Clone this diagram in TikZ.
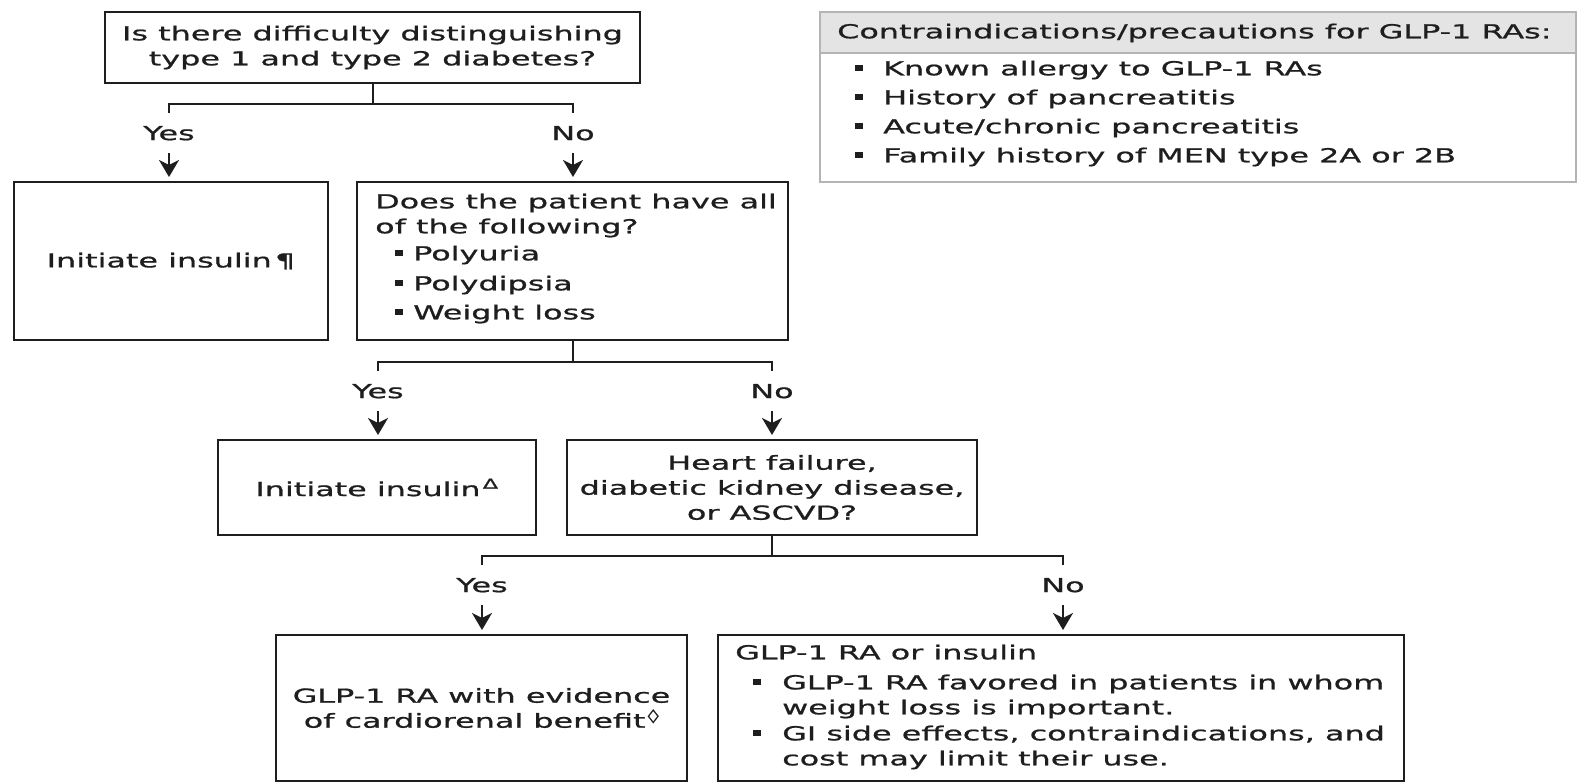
\documentclass[tikz,border=0pt]{standalone}
\usepackage{fontspec}
\setmainfont{DejaVu Sans}[FakeStretch=1.65,FakeBold=0.9]
\usetikzlibrary{arrows.meta}
\definecolor{ink}{HTML}{1E1E1E}
\definecolor{hdrgray}{HTML}{E4E4E4}
\definecolor{framegray}{HTML}{B4B4B4}
\newcommand\bul{\rule[4pt]{8pt}{6.5pt}}
\newcommand\bitem[3]{\hspace*{#1}\makebox[#2][l]{\bul}#3}
\begin{document}
\begin{tikzpicture}[x=1pt,y=-1pt,
  font=\fontsize{19.3pt}{25pt}\selectfont, text=ink,
  box/.style={draw=ink, line width=2pt, inner sep=0pt, align=center},
  lbl/.style={anchor=north, inner xsep=0pt, inner ysep=13pt, text height=13.9pt, text depth=0pt},
  ln/.style={draw=ink, line width=2pt},
  arr/.style={ln, -{Stealth[length=17pt,width=20pt,inset=5pt]}, shorten >=4pt},
]
\useasboundingbox (0,0) rectangle (1579,784);
\fill[white] (0,0) rectangle (1579,784);

% top question
\node[box, minimum width=535pt, minimum height=71pt] (q1) at (372.5,47.5) {Is there difficulty distinguishing\\type 1 and type 2 diabetes?};
\node[lbl] (yes1) at (169,113) {Yes};
\node[lbl] (no1) at (573,113) {No};
\draw[ln] (q1.south) -- ++(0,20) coordinate (b1);
\draw[ln] (yes1.north) |- (b1) -| (no1.north);

% row 1
\node[box, minimum width=314pt, minimum height=158pt] (l1) at (171,261) {Initiate insulin\,¶};
\node[box, minimum width=431pt, minimum height=158pt] (r1) at (572.5,261) {};
\node[anchor=west, align=left, inner sep=0pt] (r1t) at (375,258.5) {Does the patient have all\\of the following?\\[2pt]\bitem{20pt}{18pt}{Polyuria}\\[5pt]\bitem{20pt}{18pt}{Polydipsia}\\[4pt]\bitem{20pt}{18pt}{Weight loss}};
\draw[arr] (yes1.south) -- (yes1.south |- l1.north);
\draw[arr] (no1.south) -- (no1.south |- r1.north);

% row 2
\draw[ln] (r1.south) -- ++(0,21) coordinate (b2);
\node[lbl] (yes2) at (378,371) {Yes};
\node[lbl] (no2) at (772,371) {No};
\draw[ln] (yes2.north) |- (b2) -| (no2.north);
\node[box, minimum width=318pt, minimum height=95pt] (l2) at (377,487.5) {Initiate insulin\textsuperscript{\,Δ}};
\node[box, minimum width=410pt, minimum height=95pt] (h2) at (772,487.5) {Heart failure,\\diabetic kidney disease,\\or ASCVD?};
\draw[arr] (yes2.south) -- (yes2.south |- l2.north);
\draw[arr] (no2.south) -- (no2.south |- h2.north);

% row 3
\draw[ln] (h2.south) -- ++(0,20) coordinate (b3);
\node[lbl] (yes3) at (482,565) {Yes};
\node[lbl] (no3) at (1063,565) {No};
\draw[ln] (yes3.north) |- (b3) -| (no3.north);
\node[box, minimum width=411pt, minimum height=146pt] (bl) at (481.5,708) {GLP-1 RA with evidence\\of cardiorenal benefit\textsuperscript{\,◊}};
\node[box, minimum width=686pt, minimum height=146pt] (br) at (1061,708) {};
\node[anchor=west, align=left, inner sep=0pt] (brt) at (735,707) {GLP-1 RA or insulin\\[5pt]\bitem{18pt}{29pt}{GLP-1 RA favored in patients in whom}\\\hspace*{47pt}weight loss is important.\\[1pt]\bitem{18pt}{29pt}{GI side effects, contraindications, and}\\\hspace*{47pt}cost may limit their use.};
\draw[arr] (yes3.south) -- (yes3.south |- bl.north);
\draw[arr] (no3.south) -- (no3.south |- br.north);

% contraindications panel
\node[draw=framegray, line width=1.4pt, minimum width=756pt, minimum height=170pt, inner sep=0pt] (ct) at (1198,97) {};
\node[fill=hdrgray, draw=framegray, line width=1.4pt, minimum width=756pt, minimum height=41pt, inner sep=0pt, anchor=north] (cth) at (ct.north) {};
\node[anchor=west, inner sep=0pt] (ctht) at (837,33) {Contraindications/precautions for GLP-1 RAs:};
\node[anchor=west, align=left, inner sep=0pt] (ctl) at (837,113.5) {\bitem{18pt}{28pt}{Known allergy to GLP-1 RAs}\\[4pt]\bitem{18pt}{28pt}{History of pancreatitis}\\[4pt]\bitem{18pt}{28pt}{Acute/chronic pancreatitis}\\[4pt]\bitem{18pt}{28pt}{Family history of MEN type 2A or 2B}};
\end{tikzpicture}
\end{document}
